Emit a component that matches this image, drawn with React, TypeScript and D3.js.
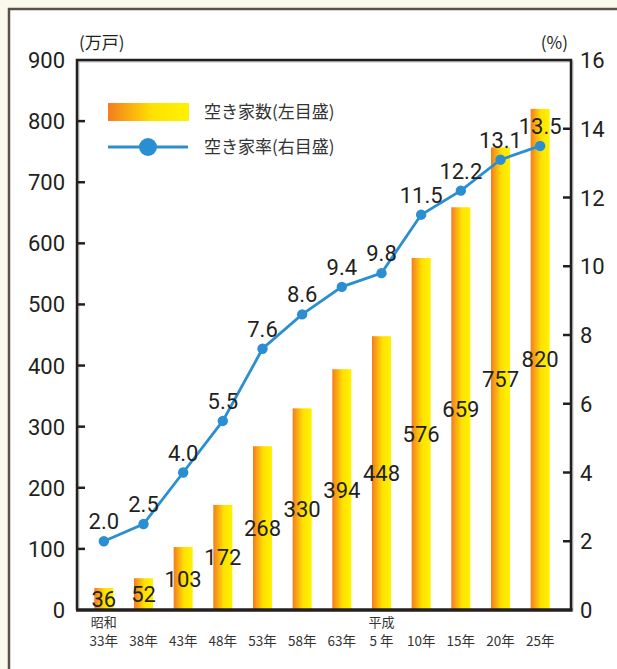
import React from 'react'
import * as d3 from 'd3'

const years = ['33年', '38年', '43年', '48年', '53年', '58年', '63年', '5 年', '10年', '15年', '20年', '25年']
const eras = ['昭和', '', '', '', '', '', '', '平成', '', '', '', '']
const houses = [36, 52, 103, 172, 268, 330, 394, 448, 576, 659, 757, 820]
const rates = [2.0, 2.5, 4.0, 5.5, 7.6, 8.6, 9.4, 9.8, 11.5, 12.2, 13.1, 13.5]
const leftTicks = [0, 100, 200, 300, 400, 500, 600, 700, 800, 900]
const rightTicks = [0, 2, 4, 6, 8, 10, 12, 14, 16]

const W = 617
const H = 669
const left = 77
const right = 571
const top = 60
const bottom = 610

const NUM = 'Roboto, "Noto Sans CJK JP", sans-serif'
const JP = '"Noto Sans CJK JP", sans-serif'
const INK = '#231f20'
const BLUE = '#2a8fd2'

export default function App() {
  const x = d3.scaleBand<string>().domain(years).range([84, 560]).padding(0)
  const yL = d3.scaleLinear().domain([0, 900]).range([bottom, top])
  const yR = d3.scaleLinear().domain([0, 16]).range([bottom, top])
  const barW = x.bandwidth() * 0.48
  const cx = (i: number) => (x(years[i]) ?? 0) + x.bandwidth() / 2

  const line = d3.line<number>()
    .x((_, i) => cx(i))
    .y(d => yR(d))

  return (
    <svg width={W} height={H} style={{ position: 'fixed', left: 0, top: 0, background: '#f9f9ec' }}>
      <defs>
        <linearGradient id="barGrad" x1="0%" x2="100%" y1="0%" y2="0%">
          <stop offset="0%" stopColor="#f47c20" />
          <stop offset="55%" stopColor="#ffe100" />
          <stop offset="100%" stopColor="#fff200" />
        </linearGradient>
      </defs>

      {/* panel */}
      <rect x={9} y={9} width={W + 10} height={H + 10} fill="#fff" stroke="#5d4f47" strokeWidth={2.5} />

      {/* bars */}
      {houses.map((v, i) => (
        <rect key={'b' + i} x={cx(i) - barW / 2} y={yL(v)} width={barW} height={bottom - yL(v)} fill="url(#barGrad)" />
      ))}
      {houses.map((v, i) => (
        <text key={'bl' + i} x={cx(i)} y={yL(v / 2) + 8} textAnchor="middle" fontFamily={NUM} fontSize={22} fill={INK}>
          {v}
        </text>
      ))}

      {/* frame */}
      <path d={`M${left},${bottom}V${top}H${right}V${bottom}`} fill="none" stroke="#c8c8c8" strokeWidth={2} transform="translate(1.5,1.5)" />
      <path d={`M${left},${bottom}V${top}H${right}V${bottom}`} fill="none" stroke={INK} strokeWidth={2.5} />
      <line x1={left - 1} x2={right + 1.5} y1={bottom} y2={bottom} stroke={INK} strokeWidth={3.5} />

      {/* left ticks */}
      {leftTicks.map(t => (
        <g key={'lt' + t}>
          {t > 0 && t < 900 && <line x1={left} x2={left + 8} y1={yL(t)} y2={yL(t)} stroke={INK} strokeWidth={2.5} />}
          <text x={65} y={yL(t) + 8} textAnchor="end" fontFamily={NUM} fontSize={22} fill={INK}>{t}</text>
        </g>
      ))}
      {/* right ticks */}
      {rightTicks.map(t => (
        <g key={'rt' + t}>
          {t > 0 && t < 16 && <line x1={right - 8} x2={right} y1={yR(t)} y2={yR(t)} stroke={INK} strokeWidth={2.5} />}
          <text x={580} y={yR(t) + 8} textAnchor="start" fontFamily={NUM} fontSize={22} fill={INK}>{t}</text>
        </g>
      ))}

      <text x={79} y={49} fontFamily={JP} fontSize={17} fill={INK}>(万戸)</text>
      <text x={568} y={49} textAnchor="end" fontFamily={JP} fontSize={17} fill={INK}>(%)</text>

      {/* x labels */}
      {years.map((yr, i) => (
        <g key={'x' + i}>
          {eras[i] && <text x={cx(i)} y={627} textAnchor="middle" fontFamily={JP} fontSize={13} fill="#333">{eras[i]}</text>}
          <text x={cx(i)} y={646} textAnchor="middle" fontFamily={JP} fontSize={13.5} fill="#333">{yr}</text>
        </g>
      ))}

      {/* rate line */}
      <path d={line(rates) ?? ''} fill="none" stroke={BLUE} strokeWidth={2.8} />
      {rates.map((r, i) => (
        <circle key={'c' + i} cx={cx(i)} cy={yR(r)} r={5.2} fill={BLUE} />
      ))}
      {rates.map((r, i) => (
        <text key={'rl' + i} x={cx(i)} y={yR(r) - 12} textAnchor="middle" fontFamily={NUM} fontSize={22} fill={INK}>
          {r.toFixed(1)}
        </text>
      ))}

      {/* legend */}
      <rect x={108} y={103} width={81} height={18} fill="url(#barGrad)" />
      <text x={204} y={118} fontFamily={JP} fontSize={17} fill="#333">空き家数(左目盛)</text>
      <line x1={108} x2={188} y1={147} y2={147} stroke={BLUE} strokeWidth={3} />
      <circle cx={148} cy={147} r={9} fill={BLUE} />
      <text x={204} y={153} fontFamily={JP} fontSize={17} fill="#333">空き家率(右目盛)</text>
    </svg>
  )
}
